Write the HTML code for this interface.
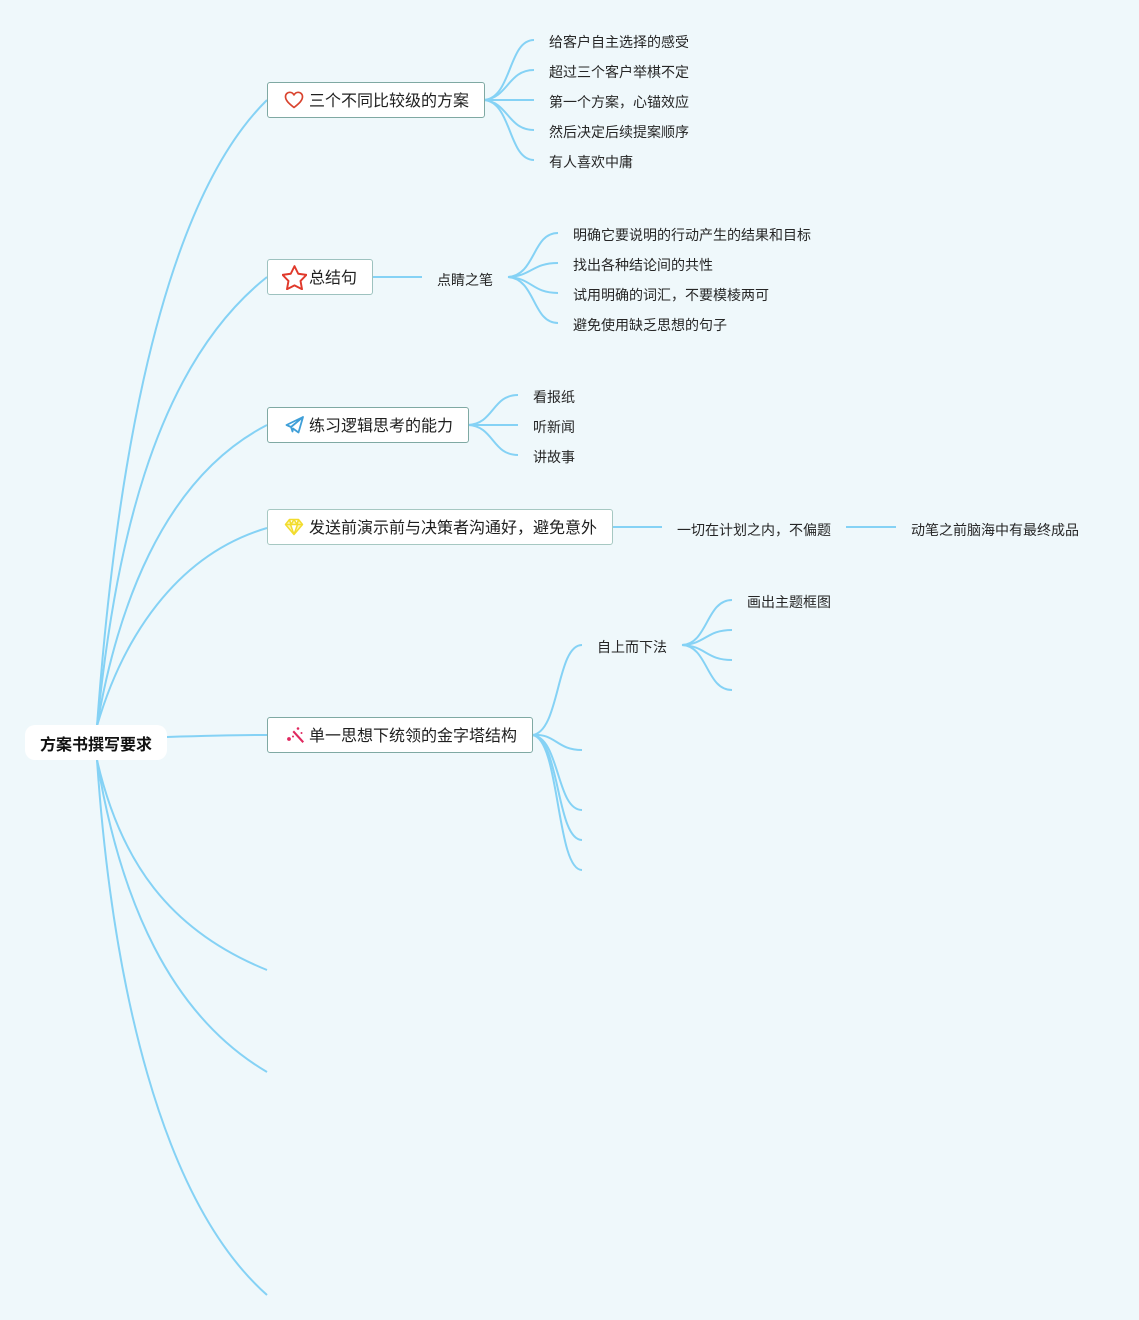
<!DOCTYPE html>
<html lang="zh">
<head>
<meta charset="utf-8">
<style>
html,body{margin:0;padding:0;background:#eff8fb}
body{position:relative;width:1139px;height:1320px;overflow:hidden;font-family:"Liberation Sans","Noto Sans CJK SC",sans-serif;color:#222}
svg{position:absolute;left:0;top:0}
.t{position:absolute;font-size:14px;line-height:20px;margin-top:1px;white-space:nowrap;color:#262626}
.b{position:absolute;box-sizing:border-box;height:36px;background:#fff;border:1px solid #7fa9a3;border-radius:3px;font-size:16px;line-height:38px;padding-left:41px;white-space:nowrap;color:#1f1f1f}
.r{position:absolute;left:25px;top:725px;width:142px;height:35px;background:#fff;border-radius:10px;font-size:16px;font-weight:bold;line-height:42px;text-align:center;color:#111}
.i{position:absolute;left:0;top:0}
</style>
</head>
<body>
<svg width="1139" height="1320" viewBox="0 0 1139 1320" fill="none" stroke="#85d2f5" stroke-width="2">
<!-- root -->
<path d="M97 726C112 520 150 215 267 100"/>
<path d="M97 726C114 560 150 370 267 277"/>
<path d="M97 726C116 615 160 480 267 425"/>
<path d="M97 726C122 640 175 555 267 528"/>
<path d="M167 737C200 736 235 735 267 735"/>
<path d="M97 760C120 860 168 930 267 970"/>
<path d="M97 760C120 900 170 1015 267 1072"/>
<path d="M97 760C112 980 160 1200 267 1295"/>
<!-- 1 -->
<path d="M484 100C512 98 508 40 534 40"/>
<path d="M484 100C508 98 508 70 534 70"/>
<path d="M484 100H534"/>
<path d="M484 100C508 102 508 130 534 130"/>
<path d="M484 100C512 102 508 160 534 160"/>
<!-- 2 -->
<path d="M372 277H422"/>
<path d="M508 277C536 275 532 233 558 233"/>
<path d="M508 277C532 276 532 263 558 263"/>
<path d="M508 277C532 278 532 293 558 293"/>
<path d="M508 277C536 279 532 323 558 323"/>
<!-- 3 -->
<path d="M468 425C494 424 492 395 518 395"/>
<path d="M468 425H518"/>
<path d="M468 425C494 426 492 455 518 455"/>
<!-- 4 -->
<path d="M612 527H662"/>
<path d="M846 527H896"/>
<!-- 5 -->
<path d="M532 735C560 733 556 645 582 645"/>
<path d="M532 735C556 733 556 750 582 750"/>
<path d="M532 735C560 737 556 810 582 810"/>
<path d="M532 735C560 737 556 840 582 840"/>
<path d="M532 735C560 737 556 870 582 870"/>
<path d="M682 645C708 644 706 600 732 600"/>
<path d="M682 645C706 644 706 630 732 630"/>
<path d="M682 645C706 646 706 660 732 660"/>
<path d="M682 645C708 646 706 690 732 690"/>
</svg>

<div class="r">方案书撰写要求</div>

<div class="b" style="left:267px;top:82px;width:218px">三个不同比较级的方案
<svg class="i" style="left:16px;top:8px" width="20" height="18" viewBox="0 0 20 18" fill="none" stroke="#d9442f" stroke-width="1.7" stroke-linejoin="round"><path d="M10 16.5C5 12.500 1.500 9.500 1.500 5.800C1.500 3 3.500 1.300 5.800 1.300C7.500 1.300 9 2.200 10 3.900C11 2.200 12.500 1.300 14.200 1.300C16.500 1.300 18.500 3 18.500 5.800C18.500 9.500 15 12.500 10 16.500Z"/></svg>
</div>

<div class="b" style="left:267px;top:259px;width:106px;border-color:#9dc2bf">总结句
<svg class="i" style="left:14px;top:5px" width="25" height="25" viewBox="2 1.5 22 22" fill="none" stroke="#e0392b" stroke-width="1.7" stroke-linejoin="round"><path d="M13 2.500L16.300 9.200L23.500 10.200L18.300 15.500L19.600 22.800L13 19.400L6.400 22.800L7.700 15.500L2.500 10.200L9.700 9.200Z"/></svg>
</div>

<div class="b" style="left:267px;top:407px;width:202px">练习逻辑思考的能力
<svg class="i" style="left:17px;top:8px" width="20" height="18" viewBox="0 0 20 18" fill="none" stroke="#3f9fd8" stroke-width="1.800" stroke-linejoin="round"><path d="M18 1L1.500 9L6 11L18 1L13.500 16.500L8 12.500L7.500 15.500L6 11"/></svg>
</div>

<div class="b" style="left:267px;top:509px;width:346px;border-color:#a6c8c2">发送前演示前与决策者沟通好，避免意外
<svg class="i" style="left:16px;top:8px" width="20" height="18" viewBox="0 0 19 18" fill="#fdf6b0" stroke="#f2dc2e" stroke-width="1.500" stroke-linejoin="round"><path d="M5 1.500H14L18 6.500L9.500 16.500L1 6.500ZM1 6.500H18M6 6.500L9.500 16.500L13 6.500M5 1.500L6.500 6.500L9.500 1.500L12.500 6.500L14 1.500"/></svg>
</div>

<div class="b" style="left:267px;top:717px;width:266px">单一思想下统领的金字塔结构
<svg class="i" style="left:17px;top:8px" width="20" height="20" viewBox="0 0 20 20" fill="#e0285f" stroke="none"><path d="M7.500 6L9 4.500L19 15.500L17.500 17Z"/><circle cx="13" cy="2.500" r="1.300"/><circle cx="4" cy="13" r="1.900"/><circle cx="8" cy="10.500" r="1"/><circle cx="16.500" cy="7" r="1"/></svg>
</div>

<div class="t" style="left:549px;top:31px">给客户自主选择的感受</div>
<div class="t" style="left:549px;top:61px">超过三个客户举棋不定</div>
<div class="t" style="left:549px;top:91px">第一个方案，心锚效应</div>
<div class="t" style="left:549px;top:121px">然后决定后续提案顺序</div>
<div class="t" style="left:549px;top:151px">有人喜欢中庸</div>

<div class="t" style="left:437px;top:269px">点睛之笔</div>
<div class="t" style="left:573px;top:224px">明确它要说明的行动产生的结果和目标</div>
<div class="t" style="left:573px;top:254px">找出各种结论间的共性</div>
<div class="t" style="left:573px;top:284px">试用明确的词汇，不要模棱两可</div>
<div class="t" style="left:573px;top:314px">避免使用缺乏思想的句子</div>

<div class="t" style="left:533px;top:386px">看报纸</div>
<div class="t" style="left:533px;top:416px">听新闻</div>
<div class="t" style="left:533px;top:446px">讲故事</div>

<div class="t" style="left:677px;top:519px">一切在计划之内，不偏题</div>
<div class="t" style="left:911px;top:519px">动笔之前脑海中有最终成品</div>

<div class="t" style="left:597px;top:636px">自上而下法</div>
<div class="t" style="left:747px;top:591px">画出主题框图</div>
</body>
</html>
